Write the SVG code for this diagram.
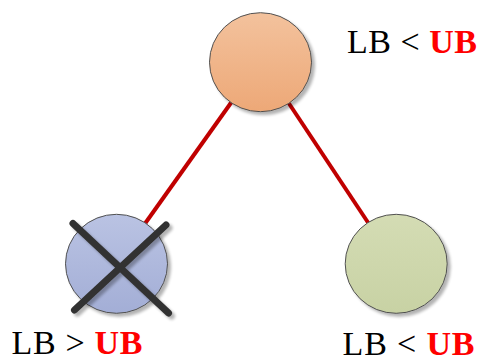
<svg xmlns="http://www.w3.org/2000/svg" width="480" height="360" viewBox="0 0 480 360">
<defs>
<linearGradient id="gOrange" x1="0" y1="0" x2="0" y2="1"><stop offset="0" stop-color="#F3C29D"/><stop offset="1" stop-color="#EDA877"/></linearGradient>
<linearGradient id="gBlue" x1="0" y1="0" x2="0" y2="1"><stop offset="0" stop-color="#BAC3E3"/><stop offset="1" stop-color="#A3AED6"/></linearGradient>
<linearGradient id="gGreen" x1="0" y1="0" x2="0" y2="1"><stop offset="0" stop-color="#D4DCB4"/><stop offset="1" stop-color="#C8D2A4"/></linearGradient>
<filter id="shadow" x="-20%" y="-20%" width="150%" height="150%">
<feGaussianBlur in="SourceAlpha" stdDeviation="1.5"/>
<feOffset dx="3" dy="3" result="b"/>
<feComponentTransfer><feFuncA type="linear" slope="0.3"/></feComponentTransfer>
<feMerge><feMergeNode/><feMergeNode in="SourceGraphic"/></feMerge>
</filter>
</defs>
<style>
.node{stroke:#505050;stroke-width:1}
.edge{stroke:#C00000;stroke-width:4;fill:none}
.cross{stroke:#333333;stroke-width:7;stroke-linecap:round}
.lbl{font-family:"Liberation Serif","Times New Roman",serif;font-size:34px;fill:#000}
.ub{font-weight:bold;fill:#FF0000}
</style>
<g id="connectors">
<line class="edge" x1="233" y1="100" x2="144" y2="225"/>
<line class="edge" x1="288" y1="102" x2="369" y2="224"/>
</g>
<g id="root">
<ellipse class="node" cx="260.5" cy="62.2" rx="51" ry="49.5" fill="url(#gOrange)" filter="url(#shadow)"/>
<text class="lbl" x="347" y="52.7" textLength="130" lengthAdjust="spacing">LB &lt; <tspan class="ub">UB</tspan></text>
</g>
<g id="left">
<ellipse class="node" cx="116.5" cy="263.8" rx="51" ry="49.5" fill="url(#gBlue)" filter="url(#shadow)"/>
<g filter="url(#shadow)">
<line class="cross" x1="73" y1="223.5" x2="168.5" y2="313"/>
<line class="cross" x1="166" y1="225" x2="74.5" y2="310"/>
</g>
<text class="lbl" x="11.5" y="354" textLength="131" lengthAdjust="spacing">LB &gt; <tspan class="ub">UB</tspan></text>
</g>
<g id="right">
<ellipse class="node" cx="396.2" cy="263.8" rx="51" ry="49.5" fill="url(#gGreen)" filter="url(#shadow)"/>
<text class="lbl" x="342.5" y="354.5" textLength="132" lengthAdjust="spacing">LB &lt; <tspan class="ub">UB</tspan></text>
</g>
</svg>
